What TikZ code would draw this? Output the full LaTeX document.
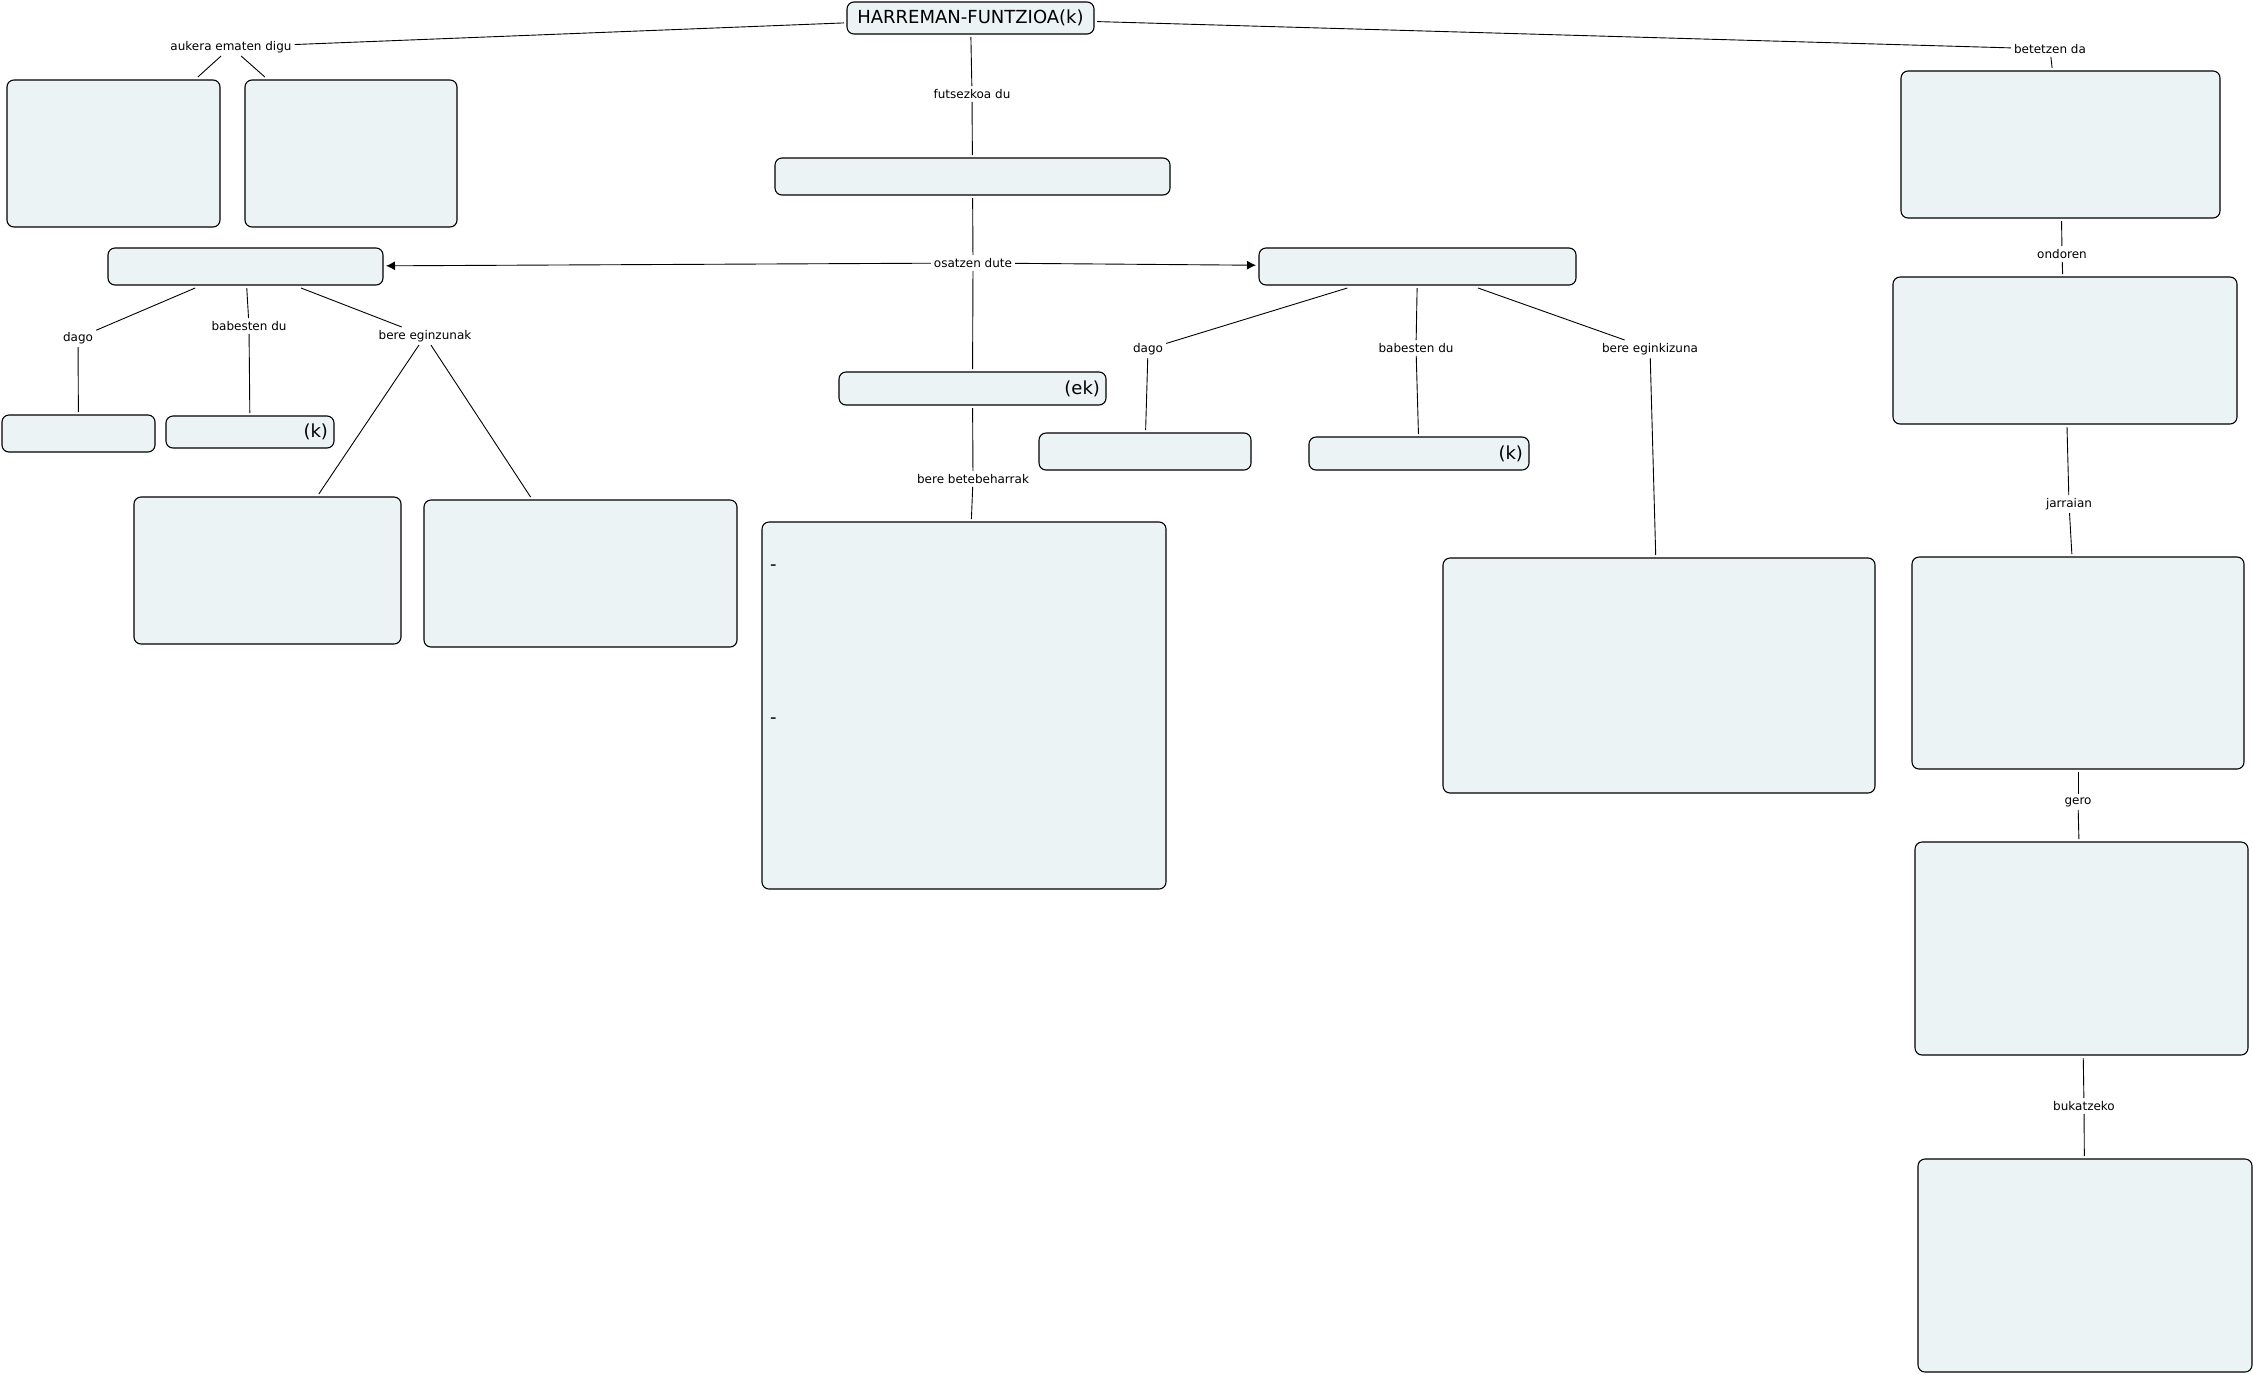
\documentclass[tikz,border=0pt]{standalone}
\usepackage{fontspec}
\setmainfont{DejaVu Sans}
\usetikzlibrary{arrows.meta}
\definecolor{cardfill}{HTML}{EBF3F5}

\begin{document}
\begin{tikzpicture}[x=1pt,y=-1pt, every node/.style={font=\fontsize{12}{14}\selectfont},
      concept/.style={draw,fill=cardfill,rounded corners=7pt,line width=1.1pt,outer sep=3pt,inner sep=0pt,
        font=\fontsize{18}{22}\selectfont},
      tagged/.style={concept,align=right,inner xsep=6pt},
      link/.style={inner sep=3pt},
      conn/.style={line width=.9pt},
      arrow/.style={conn,-{Latex[length=9pt,width=9pt]}}]
    \useasboundingbox (0,0) rectangle (2253,1374);
    % concepts
    \node[concept,minimum width=247pt,minimum height=32pt] (title) at (970.5,18) {HARREMAN-FUNTZIOA(k)};
    \node[concept,minimum width=213pt,minimum height=147pt] (optA) at (113.5,153.5) {};
    \node[concept,minimum width=212pt,minimum height=147pt] (optB) at (351,153.5) {};
    \node[concept,minimum width=395pt,minimum height=37pt] (core) at (972.5,176.5) {};
    \node[concept,minimum width=275pt,minimum height=37pt] (partL) at (245.5,266.5) {};
    \node[concept,minimum width=317pt,minimum height=37pt] (partR) at (1417.5,266.5) {};
    \node[tagged,text width=255pt,minimum height=33pt] (roles) at (972.5,388.5) {(ek)};
    \node[concept,minimum width=153pt,minimum height=37pt] (placeL) at (78.5,433.5) {};
    \node[tagged,text width=156pt,minimum height=32pt] (protL) at (250,432) {(k)};
    \node[concept,minimum width=267pt,minimum height=147pt] (taskLa) at (267.5,570.5) {};
    \node[concept,minimum width=313pt,minimum height=147pt] (taskLb) at (580.5,573.5) {};
    \node[concept,minimum width=404pt,minimum height=367pt] (duties) at (964,705.5) {};
    \node[concept,minimum width=212pt,minimum height=37pt] (placeR) at (1145,451.5) {};
    \node[tagged,text width=208pt,minimum height=33pt] (protR) at (1419,453.5) {(k)};
    \node[concept,minimum width=432pt,minimum height=235pt] (taskR) at (1659,675.5) {};
    \node[concept,minimum width=319pt,minimum height=147pt] (stepA) at (2060.5,144.5) {};
    \node[concept,minimum width=344pt,minimum height=147pt] (stepB) at (2065,350.5) {};
    \node[concept,minimum width=332pt,minimum height=212pt] (stepC) at (2078,663) {};
    \node[concept,minimum width=333pt,minimum height=213pt] (stepD) at (2081.5,948.5) {};
    \node[concept,minimum width=334pt,minimum height=213pt] (stepE) at (2085,1265.5) {};
    \node[anchor=west,inner sep=0pt,font=\fontsize{18}{22}\selectfont] (dashA) at (770,567.5) {-};
    \node[anchor=west,inner sep=0pt,font=\fontsize{18}{22}\selectfont] (dashB) at (770,720.5) {-};
    % linking phrases
    \node[link] (aukera) at (231,47) {aukera ematen digu};
    \node[link] (futs) at (972,94) {futsezkoa du};
    \node[link] (osatzen) at (973,263) {osatzen dute};
    \node[link] (betetzen) at (2050,49) {betetzen da};
    \node[link] (dagoL) at (78,338) {dago};
    \node[link] (babL) at (249,326) {babesten du};
    \node[link] (eginL) at (425,336) {bere eginzunak};
    \node[link] (betebehar) at (973,479) {bere betebeharrak};
    \node[link] (dagoR) at (1148,349) {dago};
    \node[link] (babR) at (1416,348) {babesten du};
    \node[link] (eginR) at (1650,349) {bere eginkizuna};
    \node[link] (ondoren) at (2062,254) {ondoren};
    \node[link] (jarraian) at (2069,504) {jarraian};
    \node[link] (gero) at (2078,802) {gero};
    \node[link] (bukatzeko) at (2084,1106) {bukatzeko};
    % connectors
    \draw[conn] (title)--(aukera);
    \draw[conn] (aukera)--(optA);
    \draw[conn] (aukera)--(optB);
    \draw[conn] (title)--(futs);
    \draw[conn] (futs)--(core);
    \draw[conn] (core)--(osatzen);
    \draw[conn] (osatzen)--(roles);
    \draw[arrow] (osatzen)--(partL);
    \draw[arrow] (osatzen)--(partR);
    \draw[conn] (roles)--(betebehar);
    \draw[conn] (betebehar)--(duties);
    \draw[conn] (partL)--(dagoL);
    \draw[conn] (dagoL)--(placeL);
    \draw[conn] (partL)--(babL);
    \draw[conn] (babL)--(protL);
    \draw[conn] (partL)--(eginL);
    \draw[conn] (eginL)--(taskLa);
    \draw[conn] (eginL)--(taskLb);
    \draw[conn] (partR)--(dagoR);
    \draw[conn] (dagoR)--(placeR);
    \draw[conn] (partR)--(babR);
    \draw[conn] (babR)--(protR);
    \draw[conn] (partR)--(eginR);
    \draw[conn] (eginR)--(taskR);
    \draw[conn] (title)--(betetzen);
    \draw[conn] (betetzen)--(stepA);
    \draw[conn] (stepA)--(ondoren);
    \draw[conn] (ondoren)--(stepB);
    \draw[conn] (stepB)--(jarraian);
    \draw[conn] (jarraian)--(stepC);
    \draw[conn] (stepC)--(gero);
    \draw[conn] (gero)--(stepD);
    \draw[conn] (stepD)--(bukatzeko);
    \draw[conn] (bukatzeko)--(stepE);
  \end{tikzpicture}
\end{document}
